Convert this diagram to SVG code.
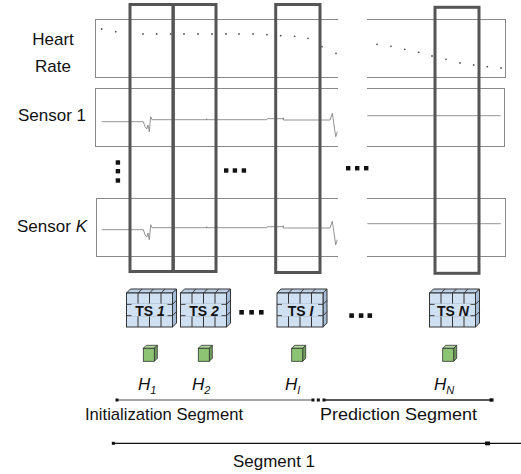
<svg xmlns="http://www.w3.org/2000/svg" xmlns:xlink="http://www.w3.org/1999/xlink" width="521" height="474" viewBox="0 0 521 474">
<style>
text{font-family:"Liberation Sans",Arial,sans-serif;fill:#111}
.lbl{font-size:17px;text-anchor:middle}
.seg{font-size:17px}
.hl{font-size:17px;font-style:italic}
.sub{font-size:11px}
.ts{font-size:14px;font-weight:bold;text-anchor:middle}
.panel{fill:none;stroke:#888;stroke-width:1}
.win{fill:none;stroke:#555;stroke-width:3}
.trace{fill:none;stroke:#777;stroke-width:0.8}
.dot{fill:#555}
.blk{fill:#111}
</style>
<defs>
<g id="tscube" stroke="#333" stroke-width="1">
<polygon points="0,0 4,-4 50,-4 46,0" fill="#bccfe6"/>
<polygon points="46,0 50,-4 50,30 46,34" fill="#a5bcd9"/>
<rect x="0" y="0" width="46" height="34" fill="#cfe0f3"/>
<path fill="none" d="M11.5,0V34M23,0V34M34.5,0V34M0,11.3H46M0,22.7H46M11.5,0l4,-4M23,0l4,-4M34.5,0l4,-4M46,11.3l4,-4M46,22.7l4,-4"/>
<rect x="5" y="10.6" width="36" height="12.8" fill="#cfe0f3" stroke="none"/>
</g>
<g id="hcube" stroke="#333" stroke-width="0.8">
<polygon points="0,0 3,-3 14,-3 11,0" fill="#b0d69c"/>
<polygon points="11,0 14,-3 14,10 11,13" fill="#6f9f5c"/>
<rect x="0" y="0" width="11" height="13" fill="#8cc474"/>
</g>
</defs>

<g id="labels">
<text class="lbl" x="53" y="45">Heart</text>
<text class="lbl" x="53" y="72">Rate</text>
<text class="lbl" x="52" y="121">Sensor 1</text>
<text class="lbl" x="52" y="232">Sensor <tspan font-style="italic">K</tspan></text>
</g>

<g id="panels">
<rect class="panel" x="95.5" y="19.5" width="410" height="58"/>
<rect class="panel" x="95.5" y="88.5" width="409" height="58"/>
<rect class="panel" x="96.5" y="198.5" width="409" height="58"/>
<rect x="338" y="14" width="29" height="248" fill="#fff"/>
</g>

<g id="heart-rate-trace">
<circle class="dot" cx="101.7" cy="29" r="0.9"/>
<circle class="dot" cx="115.7" cy="31.7" r="0.9"/>
<circle class="dot" cx="143" cy="34" r="0.9"/>
<circle class="dot" cx="156.7" cy="34" r="0.9"/>
<circle class="dot" cx="170.7" cy="34" r="0.9"/>
<circle class="dot" cx="184" cy="34" r="0.9"/>
<circle class="dot" cx="198" cy="34" r="0.9"/>
<circle class="dot" cx="212" cy="34" r="0.9"/>
<circle class="dot" cx="226" cy="34" r="0.9"/>
<circle class="dot" cx="239" cy="34" r="0.9"/>
<circle class="dot" cx="253" cy="34" r="0.9"/>
<circle class="dot" cx="267" cy="34.7" r="0.9"/>
<circle class="dot" cx="280.7" cy="35.7" r="0.9"/>
<circle class="dot" cx="294.7" cy="36.3" r="0.9"/>
<circle class="dot" cx="308" cy="38.3" r="0.9"/>
<circle class="dot" cx="322" cy="46.7" r="0.9"/>
<circle class="dot" cx="336" cy="53.3" r="0.9"/>
<circle class="dot" cx="377" cy="44.3" r="0.9"/>
<circle class="dot" cx="391" cy="46.3" r="0.9"/>
<circle class="dot" cx="404.7" cy="49.3" r="0.9"/>
<circle class="dot" cx="418.7" cy="52.3" r="0.9"/>
<circle class="dot" cx="432" cy="56" r="0.9"/>
<circle class="dot" cx="446" cy="59.3" r="0.9"/>
<circle class="dot" cx="460" cy="63" r="0.9"/>
<circle class="dot" cx="473.7" cy="65" r="0.9"/>
<circle class="dot" cx="487.3" cy="66.7" r="0.9"/>
<circle class="dot" cx="501" cy="68" r="0.9"/>
</g>

<g id="sensor-traces">
<path id="s1trace" class="trace" d="M101.7,121.7H143.3L145,126.7L146.7,129L148,125L149.3,131.7L150.7,116.7L152,119.7H206.7V118.7V119.7H266.7L267.3,118.7H283.3V117.7V120H330L332.3,113.3L334,125L335.7,136.7L337.3,131.7M367.3,115.7H500.7"/>
<use xlink:href="#s1trace" transform="translate(0,108)"/>
</g>

<g id="ellipses">
<rect class="blk" x="115.7" y="160.3" width="4.4" height="4.4"/>
<rect class="blk" x="115.7" y="169" width="4.4" height="4.4"/>
<rect class="blk" x="115.7" y="178.3" width="4.4" height="4.4"/>
<rect class="blk" x="224" y="168.3" width="4.4" height="4.4"/>
<rect class="blk" x="232.7" y="168.3" width="4.4" height="4.4"/>
<rect class="blk" x="241.7" y="168.3" width="4.4" height="4.4"/>
<rect class="blk" x="346" y="166" width="4.4" height="4.4"/>
<rect class="blk" x="355" y="166" width="4.4" height="4.4"/>
<rect class="blk" x="364" y="166" width="4.4" height="4.4"/>
<rect class="blk" x="239.3" y="310" width="4.6" height="4.6"/>
<rect class="blk" x="249.3" y="310" width="4.6" height="4.6"/>
<rect class="blk" x="259" y="310" width="4.6" height="4.6"/>
<rect class="blk" x="349.3" y="313.3" width="4.6" height="4.6"/>
<rect class="blk" x="358.8" y="313.3" width="4.6" height="4.6"/>
<rect class="blk" x="367.5" y="313.3" width="4.6" height="4.6"/>
</g>

<g id="windows">
<rect id="win1" class="win" x="130" y="4.5" width="43" height="267"/>
<rect id="win2" class="win" x="173.3" y="4.5" width="42.7" height="267"/>
<rect id="win3" class="win" x="275.7" y="4.5" width="44.3" height="268"/>
<rect id="win4" class="win" x="435" y="7.3" width="44" height="266"/>
</g>

<g id="ts1"><use xlink:href="#tscube" transform="translate(126.5,293)"/><text class="ts" x="150" y="316">TS <tspan font-style="italic">1</tspan></text></g>
<g id="ts2"><use xlink:href="#tscube" transform="translate(180.5,293)"/><text class="ts" x="204" y="316">TS <tspan font-style="italic">2</tspan></text></g>
<g id="tsI"><use xlink:href="#tscube" transform="translate(277,293)"/><text class="ts" x="300.5" y="316">TS <tspan font-style="italic">I</tspan></text></g>
<g id="tsN"><use xlink:href="#tscube" transform="translate(429.5,293)"/><text class="ts" x="453" y="316">TS <tspan font-style="italic">N</tspan></text></g>

<g id="h1"><use xlink:href="#hcube" transform="translate(143.3,348.3)"/><text class="hl" x="138" y="390">H<tspan class="sub" dy="4">1</tspan></text></g>
<g id="h2"><use xlink:href="#hcube" transform="translate(198.3,348.3)"/><text class="hl" x="192" y="390">H<tspan class="sub" dy="4">2</tspan></text></g>
<g id="hI"><use xlink:href="#hcube" transform="translate(291.7,348.3)"/><text class="hl" x="285" y="390">H<tspan class="sub" dy="4">I</tspan></text></g>
<g id="hN"><use xlink:href="#hcube" transform="translate(442.7,348.3)"/><text class="hl" x="434" y="390">H<tspan class="sub" dy="4">N</tspan></text></g>

<g id="connectors">
<path d="M117,400H313" stroke="#888" stroke-width="1.5" fill="none"/>
<path d="M325,400H491" stroke="#222" stroke-width="1.5" fill="none"/>
<rect class="blk" x="115.5" y="398.5" width="3" height="3"/>
<rect class="blk" x="311.5" y="398.5" width="3" height="3"/>
<rect class="blk" x="316.8" y="398.5" width="3" height="3"/>
<rect class="blk" x="322.5" y="398.5" width="3" height="3"/>
<rect class="blk" x="489.5" y="398.3" width="4" height="3.4"/>
<path d="M113,443.3H521" stroke="#111" stroke-width="1.3" fill="none"/>
<rect class="blk" x="111.8" y="441.8" width="3" height="3"/>
<rect class="blk" x="485" y="441.5" width="5" height="3.8"/>
</g>

<g id="segment-labels">
<text class="seg" x="85" y="420" textLength="158" lengthAdjust="spacingAndGlyphs">Initialization Segment</text>
<text class="seg" x="320" y="420" textLength="157" lengthAdjust="spacingAndGlyphs">Prediction Segment</text>
<text class="seg" x="233" y="467" textLength="82" lengthAdjust="spacingAndGlyphs">Segment 1</text>
</g>
</svg>
